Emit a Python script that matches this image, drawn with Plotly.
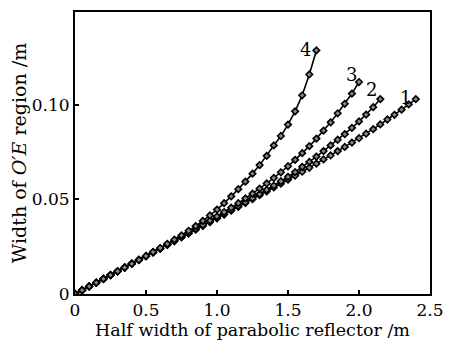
import plotly.graph_objects as go

# Half width of parabolic reflector (m)
x1 = [round(0.05 * i, 2) for i in range(49)]   # 0 .. 2.40
x2 = [round(0.05 * i, 2) for i in range(44)]   # 0 .. 2.15
x3 = [round(0.05 * i, 2) for i in range(41)]   # 0 .. 2.00
x4 = [round(0.05 * i, 2) for i in range(35)]   # 0 .. 1.70

# Width of O'E region (m)
y1 = [0, 0.0020, 0.0040, 0.0060, 0.0080, 0.0100, 0.0120, 0.0140, 0.0160, 0.0180,
      0.0200, 0.0220, 0.0240, 0.0260, 0.0280, 0.0300, 0.0320, 0.0340, 0.0360, 0.0380,
      0.0400, 0.0420, 0.0441, 0.0461, 0.0481, 0.0501, 0.0522, 0.0542, 0.0563, 0.0583,
      0.0604, 0.0625, 0.0646, 0.0667, 0.0689, 0.0711, 0.0732, 0.0755, 0.0777, 0.0800,
      0.0823, 0.0847, 0.0871, 0.0896, 0.0922, 0.0947, 0.0974, 0.1002, 0.1030]
y2 = [0, 0.0020, 0.0040, 0.0060, 0.0080, 0.0100, 0.0120, 0.0140, 0.0160, 0.0180,
      0.0200, 0.0220, 0.0240, 0.0260, 0.0280, 0.0300, 0.0320, 0.0341, 0.0361, 0.0381,
      0.0402, 0.0422, 0.0443, 0.0464, 0.0485, 0.0506, 0.0528, 0.0550, 0.0573, 0.0596,
      0.0619, 0.0644, 0.0672, 0.0698, 0.0726, 0.0755, 0.0785, 0.0815, 0.0845, 0.0878,
      0.0912, 0.0948, 0.0987, 0.1030]
y3 = [0, 0.0020, 0.0040, 0.0060, 0.0080, 0.0100, 0.0120, 0.0140, 0.0160, 0.0180,
      0.0200, 0.0220, 0.0241, 0.0261, 0.0282, 0.0302, 0.0323, 0.0344, 0.0366, 0.0388,
      0.0410, 0.0433, 0.0456, 0.0480, 0.0505, 0.0530, 0.0557, 0.0584, 0.0613, 0.0643,
      0.0675, 0.0709, 0.0744, 0.0781, 0.0821, 0.0863, 0.0907, 0.0955, 0.1005, 0.1059,
      0.1120]
y4 = [0, 0.0020, 0.0040, 0.0060, 0.0080, 0.0100, 0.0120, 0.0140, 0.0160, 0.0180,
      0.0201, 0.0222, 0.0243, 0.0265, 0.0287, 0.0310, 0.0334, 0.0359, 0.0386, 0.0415,
      0.0446, 0.0480, 0.0516, 0.0554, 0.0594, 0.0636, 0.0681, 0.0730, 0.0785, 0.0835,
      0.0895, 0.0965, 0.1050, 0.1160, 0.1287]

curve_labels = ["1", "2", "3", "4"]
xs = [x1, x2, x3, x4]
ys = [y1, y2, y3, y4]

xtick_vals = [0, 0.5, 1.0, 1.5, 2.0, 2.5]
xtick_text = ["0", "0.5", "1.0", "1.5", "2.0", "2.5"]
ytick_vals = [0, 0.05, 0.10]
ytick_text = ["0", "0.05", "0.10"]

FONT = "DejaVu Serif"

fig = go.Figure()
for xv, yv in zip(xs, ys):
    fig.add_trace(go.Scatter(
        x=xv, y=yv, mode="lines+markers",
        line=dict(color="black", width=1.6),
        marker=dict(symbol="diamond", size=5, color="#888888",
                    line=dict(color="black", width=1.6)),
        showlegend=False, hoverinfo="skip"))

# curve number labels at their line ends
label_pos = {"1": (2.33, 0.1040), "2": (2.085, 0.1078),
             "3": (1.945, 0.1160), "4": (1.625, 0.1292)}
for lab in curve_labels:
    lx, ly = label_pos[lab]
    fig.add_annotation(x=lx, y=ly, text=lab, showarrow=False,
                       font=dict(family=FONT, size=18, color="black"))

axis_common = dict(showgrid=False, zeroline=False, showline=True,
                   linecolor="black", linewidth=2, mirror=True,
                   ticks="inside", ticklen=4, tickwidth=1.5, tickcolor="black",
                   tickfont=dict(family=FONT, size=17, color="black"))

fig.update_xaxes(range=[0, 2.5], tickvals=xtick_vals, ticktext=xtick_text,
                 title=dict(text="Half width of parabolic reflector /m",
                            font=dict(family=FONT, size=17.5, color="black"),
                            standoff=1),
                 **axis_common)
fig.update_yaxes(range=[0, 0.149], tickvals=ytick_vals, ticktext=ytick_text,
                 title=dict(text="Width of <i>O′E</i> region /m",
                            font=dict(family=FONT, size=19, color="black"),
                            standoff=0),
                 **axis_common)

fig.update_layout(width=454, height=344,
                  margin=dict(l=75, r=14, t=10, b=45),
                  paper_bgcolor="white", plot_bgcolor="white")

fig.write_html("out.html")
